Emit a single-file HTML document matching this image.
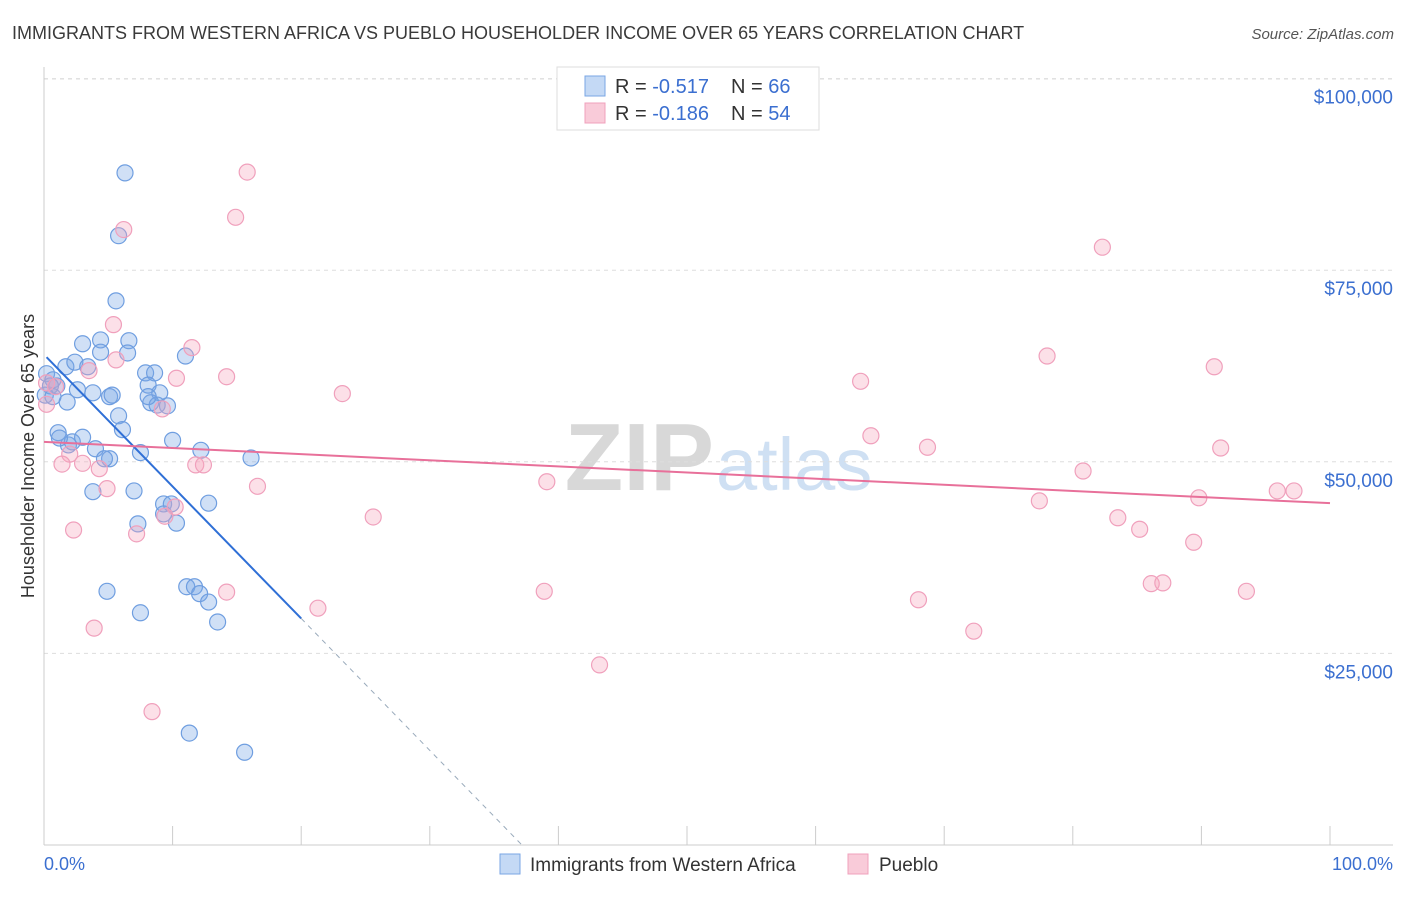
<!DOCTYPE html>
<html><head><meta charset="utf-8"><style>
body{margin:0;background:#fff;font-family:"Liberation Sans",sans-serif}
svg text{font-family:"Liberation Sans",sans-serif}
</style></head><body>
<svg id="chart" width="1406" height="892" xmlns="http://www.w3.org/2000/svg">
<text x="12" y="39" font-size="18" fill="#3a3a3a">IMMIGRANTS FROM WESTERN AFRICA VS PUEBLO HOUSEHOLDER INCOME OVER 65 YEARS CORRELATION CHART</text>
<text x="1394" y="39" font-size="15" fill="#555" text-anchor="end" font-style="italic">Source: ZipAtlas.com</text>
<text x="714" y="490" font-size="96" fill="#d8d8d8" text-anchor="end" font-family="Liberation Serif" font-weight="bold">ZIP</text>
<text x="716" y="490" font-size="74" fill="#cfe0f3">atlas</text>
<g id="grid"></g>
<g id="axes"></g>
<g id="pts"></g>
<g id="trend"></g>
<text transform="translate(34,456) rotate(-90)" font-size="18" fill="#333" text-anchor="middle">Householder Income Over 65 years</text>
<text x="44" y="870" font-size="18" fill="#3b6fd0">0.0%</text>
<text x="1393" y="870" font-size="18" fill="#3b6fd0" text-anchor="end">100.0%</text>
<g>
<rect x="557" y="67" width="262" height="63" fill="#fff" stroke="#ddd"/>
<rect x="585" y="76" width="20" height="20" fill="#c4d9f5" stroke="#7aa6e4"/>
<rect x="585" y="103" width="20" height="20" fill="#f9cbd9" stroke="#f0a0bc"/>
<text x="615" y="93" font-size="20" fill="#333">R = <tspan fill="#3b6fd0">-0.517</tspan></text>
<text x="731" y="93" font-size="20" fill="#333">N = <tspan fill="#3b6fd0">66</tspan></text>
<text x="615" y="120" font-size="20" fill="#333">R = <tspan fill="#3b6fd0">-0.186</tspan></text>
<text x="731" y="120" font-size="20" fill="#333">N = <tspan fill="#3b6fd0">54</tspan></text>
</g>
<g>
<rect x="500" y="854" width="20" height="20" fill="#c4d9f5" stroke="#7aa6e4"/>
<text x="530" y="871" font-size="19" fill="#333">Immigrants from Western Africa</text>
<rect x="848" y="854" width="20" height="20" fill="#f9cbd9" stroke="#f0a0bc"/>
<text x="879" y="871" font-size="19" fill="#333">Pueblo</text>
</g>
</svg>
<script>
const yTicks=[25000,50000,75000,100000];
const yTickLabels=["$25,000","$50,000","$75,000","$100,000"];
const xTicks=[0,10,20,30,40,50,60,70,80,90,100];
const blueX=[6.3,5.8,5.6,4.4,3.0,6.6,4.4,6.5,11.0,1.7,2.4,3.4,0.2,0.7,1.0,0.5,0.1,0.7,1.8,2.6,3.8,5.1,5.3,7.9,8.6,8.1,9.0,8.3,8.8,9.6,5.8,6.1,1.1,1.9,2.2,3.0,1.2,4.0,5.1,4.7,7.5,10.0,12.2,16.1,3.8,7.0,9.3,9.9,12.8,7.3,10.3,9.3,4.9,7.5,11.1,11.7,12.1,12.8,13.5,11.3,15.6,8.1];
const blueY=[87700,79500,71000,65900,65400,65800,64300,64200,63800,62400,63000,62400,61500,60700,59900,59900,58700,58500,57800,59400,59000,58500,58700,61600,61600,60000,59000,57700,57400,57300,56000,54200,53800,52200,52600,53200,53100,51700,50400,50400,51200,52800,51500,50500,46100,46200,44500,44500,44600,41900,42000,43200,33100,30300,33700,33700,32800,31700,29100,14600,12100,58500];
const pinkX=[15.8,14.9,6.2,82.3,5.4,11.5,78.0,91.0,5.6,3.5,10.3,14.2,63.5,23.2,0.2,0.9,0.2,9.2,64.3,68.7,91.5,2.0,1.4,3.0,11.8,12.4,4.3,16.6,4.9,39.1,80.8,77.4,89.8,95.9,97.2,10.2,9.4,25.6,83.5,85.2,2.3,7.2,89.4,86.1,87.0,38.9,93.5,14.2,21.3,68.0,3.9,72.3,43.2,8.4];
const pinkY=[87800,81900,80300,78000,67900,64900,63800,62400,63300,61900,60900,61100,60500,58900,60300,59800,57500,56900,53400,51900,51800,51000,49700,49800,49600,49600,49100,46800,46500,47400,48800,44900,45300,46200,46200,44100,42900,42800,42700,41200,41100,40600,39500,34100,34200,33100,33100,33000,30900,32000,28300,27900,23500,17400];
const blueTrend=[64000,-1722];
const pinkTrend=[52600,44600];
const NS="http://www.w3.org/2000/svg";
const X=v=>44+v*12.86, Y=v=>845-v*191.6/25000;
function mk(t,a,p){const e=document.createElementNS(NS,t);for(const k in a)e.setAttribute(k,a[k]);p.appendChild(e);return e;}
const grid=document.getElementById('grid'),axes=document.getElementById('axes'),pts=document.getElementById('pts'),tr=document.getElementById('trend');
const topLine=mk('line',{x1:44,x2:1393,y1:79,y2:79,stroke:'#ddd','stroke-dasharray':'4,4'},grid);


yTicks.forEach((v,i)=>{
 const l=mk('line',{x1:44,x2:1393,y1:Y(v),y2:Y(v),stroke:'#ddd','stroke-dasharray':'4,4'},grid);
 
 
 const t=mk('text',{x:1393,y:Y(v)+25,'font-size':19,fill:'#3b6fd0','text-anchor':'end'},grid);
 t.textContent=yTickLabels[i];
 
 
});
const ya=mk('line',{x1:44,x2:44,y1:67,y2:845,stroke:'#ccc'},axes);


const xa=mk('line',{x1:44,x2:1393,y1:845,y2:845,stroke:'#ccc'},axes);


xTicks.forEach(v=>{
 const l=mk('line',{x1:X(v),x2:X(v),y1:826,y2:845,stroke:'#ccc'},axes);
 
 
});
blueX.forEach((v,i)=>{
 const c=mk('circle',{cx:X(v),cy:Y(blueY[i]),r:8,fill:'rgba(120,165,230,0.35)',stroke:'#6f9ee0','stroke-width':1.2},pts);
 
 
});
pinkX.forEach((v,i)=>{
 const c=mk('circle',{cx:X(v),cy:Y(pinkY[i]),r:8,fill:'rgba(245,165,190,0.35)',stroke:'#f0a0bc','stroke-width':1.2},pts);
 
 
});
const bY=x=>blueTrend[0]+blueTrend[1]*x;
const x0=-blueTrend[0]/blueTrend[1];
const b1=mk('line',{x1:X(0.2),y1:Y(bY(0.2)),x2:X(20),y2:Y(bY(20)),stroke:'#2f6fd6','stroke-width':2},tr);


const b2=mk('line',{x1:X(20),y1:Y(bY(20)),x2:X(x0),y2:Y(0),stroke:'#9ab',"stroke-dasharray":'5,5','stroke-width':1},tr);


const p1=mk('line',{x1:X(0),y1:Y(pinkTrend[0]),x2:X(100),y2:Y(pinkTrend[1]),stroke:'#e8709a','stroke-width':2},tr);


</script>
</body></html>
